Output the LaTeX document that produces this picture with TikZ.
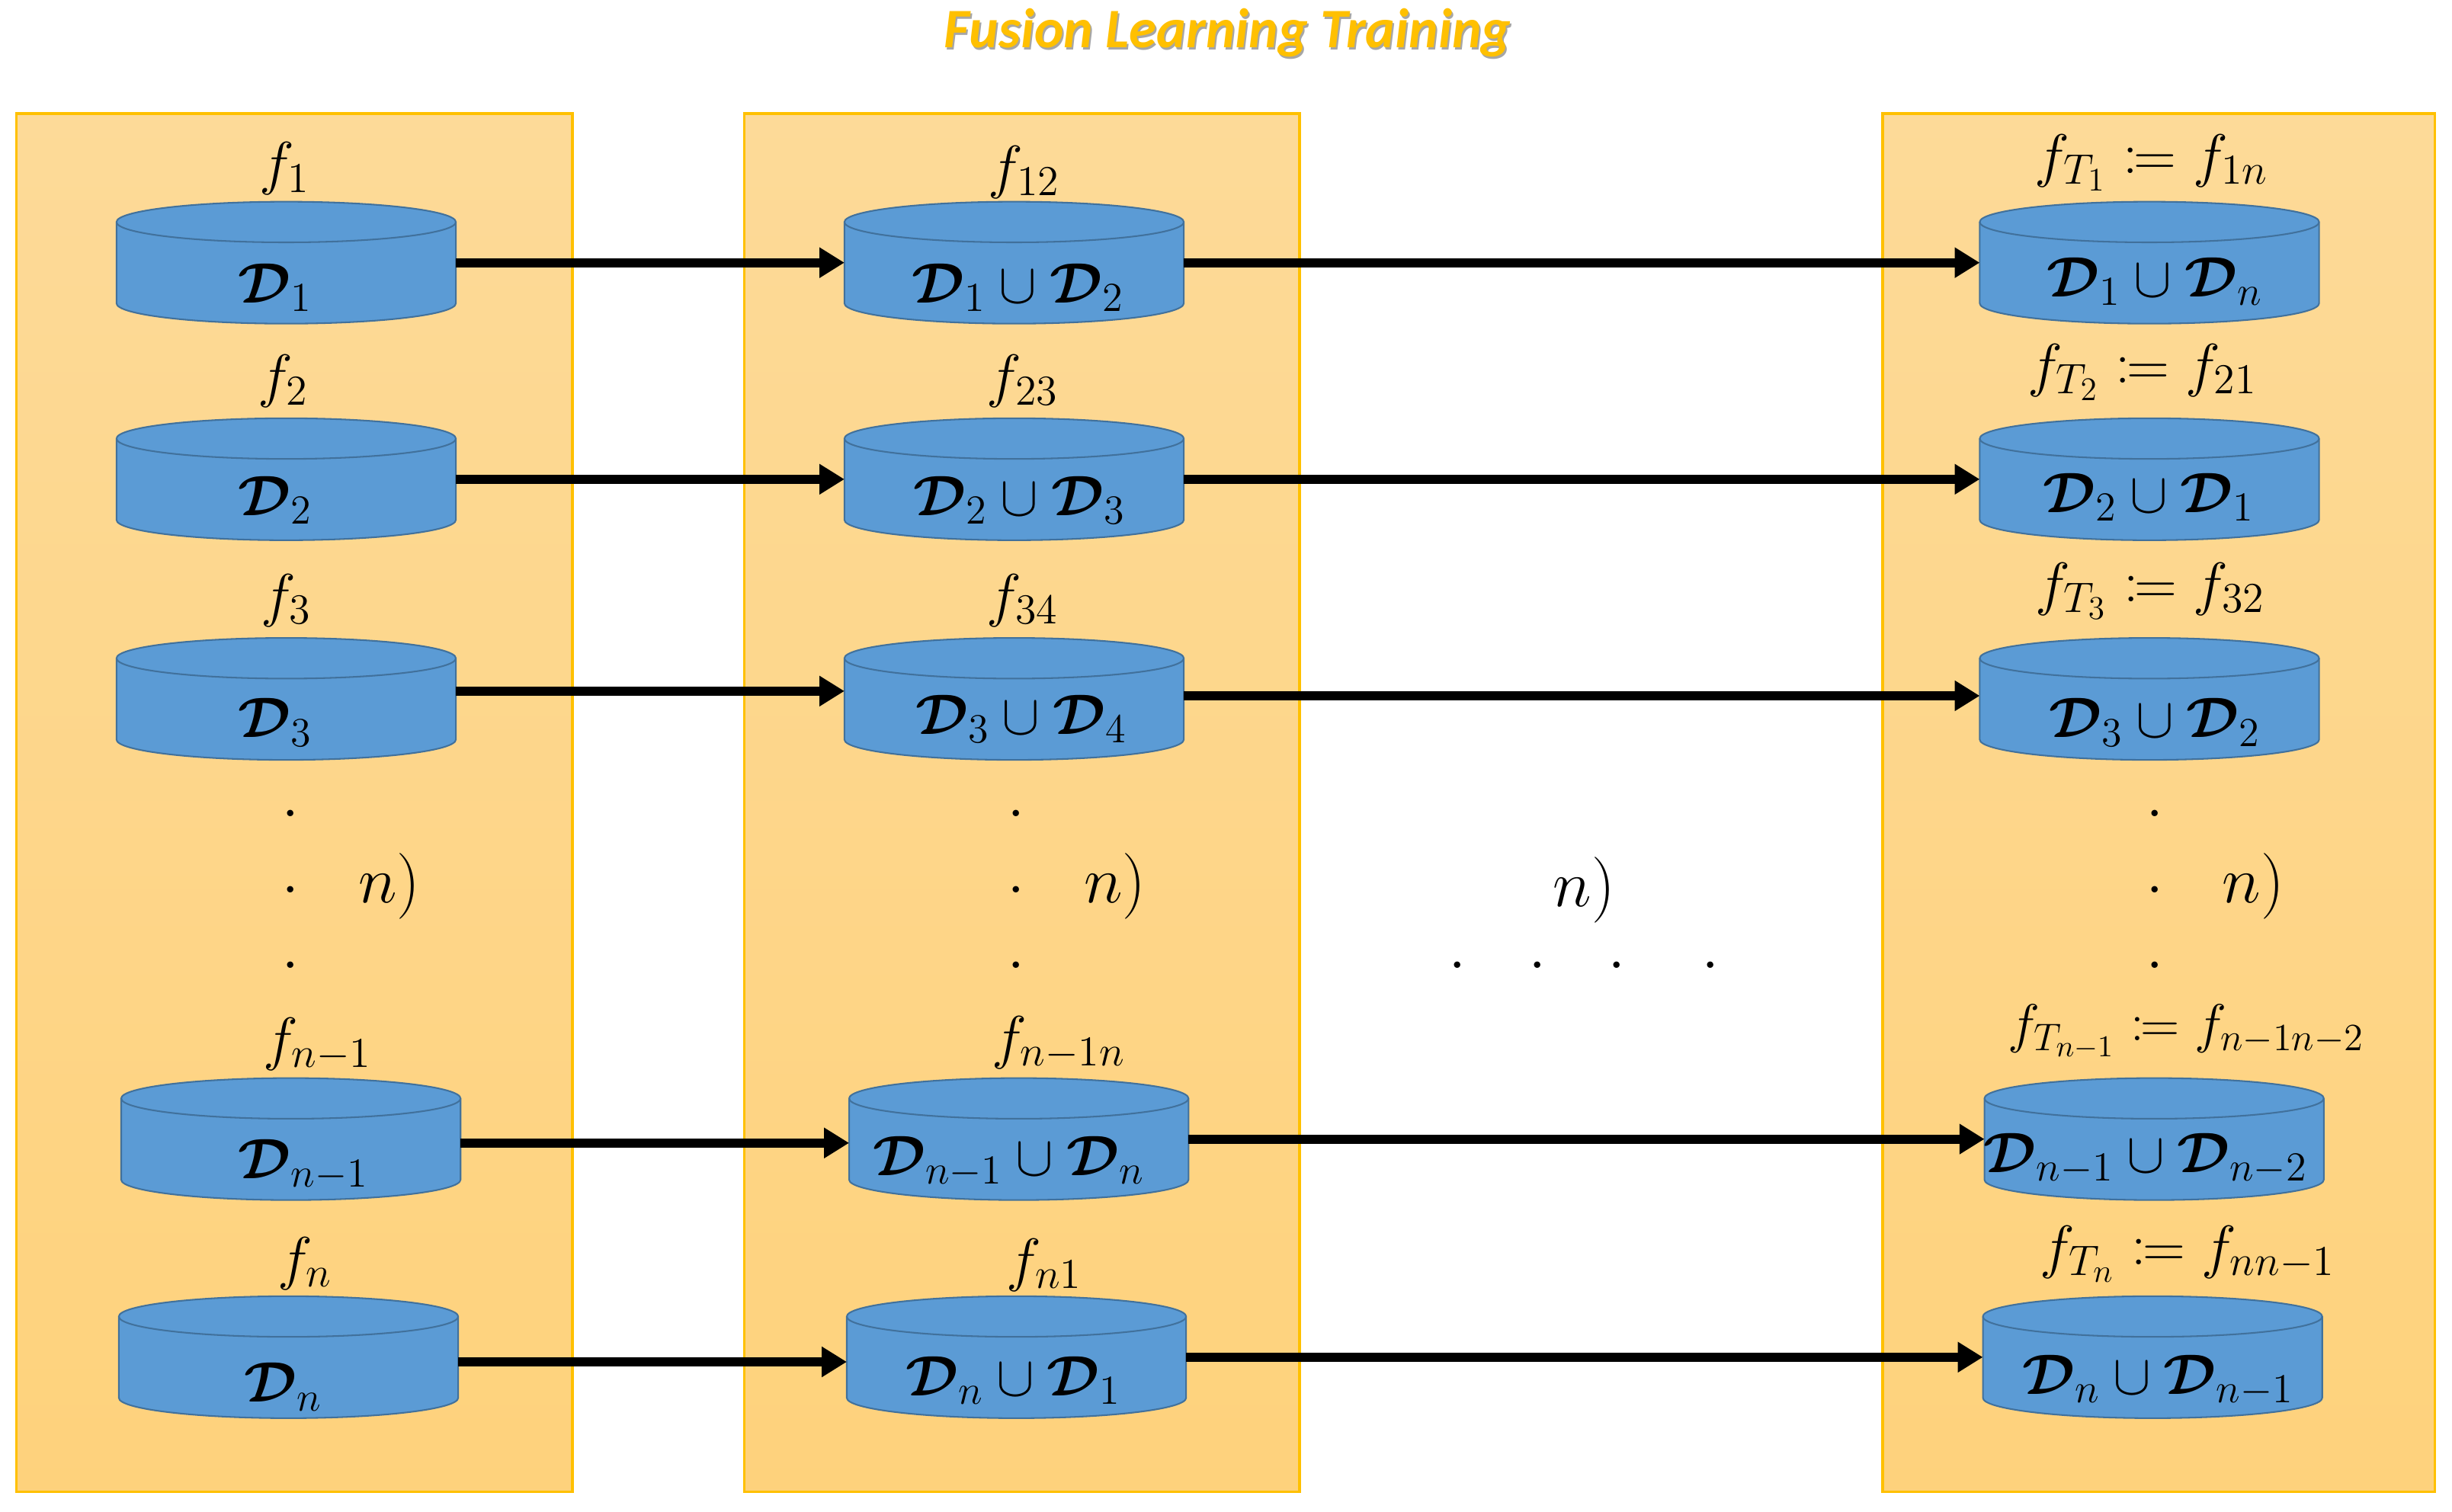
\RequirePackage{fix-cm}
\documentclass[tikz,border=0pt]{standalone}
\usepackage{amsmath}
\usepackage{amssymb}
\usepackage{mathtools}
\usepackage{fontspec}
\usepackage{tikz}
\usetikzlibrary{arrows.meta}
\newfontfamily\titlefont{Carlito}
\DeclareMathSizes{24}{24}{17}{13}
\DeclareMathSizes{21.5}{21.5}{15.5}{12}
\DeclareMathSizes{20.7}{20.7}{15}{11.5}
\DeclareMathSizes{19.7}{19.7}{14}{11}
\newcommand\Dset[1]{\boldsymbol{\mathcal{D}}_{#1}}
\definecolor{panelTop}{RGB}{253,218,152}
\definecolor{panelBottom}{RGB}{254,210,124}
\definecolor{panelEdge}{RGB}{255,192,0}
\definecolor{storeFill}{RGB}{91,155,213}
\definecolor{storeEdge}{RGB}{65,113,156}
\tikzset{
  panel/.style={draw=panelEdge, line width=0.35mm, top color=panelTop, bottom color=panelBottom},
  storebox/.style={minimum width=43.4mm, minimum height=15.6mm, inner sep=0, outer sep=0},
  storeline/.style={draw=storeEdge, line width=0.2mm},
  flow/.style={black, line width=1.15mm, -{Triangle[length=3.2mm,width=3.7mm]}},
  tag/.style={font=\fontsize{21.5}{26}\selectfont, inner sep=0},
  datatag/.style={font=\fontsize{20.7}{25}\selectfont, inner sep=0},
  longtag/.style={font=\fontsize{19.7}{24}\selectfont, inner sep=0},
  bigtag/.style={font=\fontsize{24}{28}\selectfont, inner sep=0},
  headline/.style={font=\fontsize{20.3}{24}\selectfont\titlefont\bfseries\itshape, inner sep=0},
}
\newcommand\addstore[2]{
  \node[storebox] (#1) at (#2) {};
  \filldraw[storeline, fill=storeFill] ([yshift=-2.6mm]#1.north west)
    arc[start angle=180, end angle=0, x radius=21.7mm, y radius=2.6mm]
    --([yshift=2.6mm]#1.south east)
    arc[start angle=0, end angle=-180, x radius=21.7mm, y radius=2.6mm]
    --cycle;
  \draw[storeline] ([yshift=-2.6mm]#1.north west)
    arc[start angle=180, end angle=360, x radius=21.7mm, y radius=2.6mm];
}

\begin{document}
\begin{tikzpicture}[x=0.2mm, y=-0.2mm]
	\useasboundingbox (0, 0) rectangle (1568, 967);
	\node[headline, text=black!35] (titleshade) at (786, 22.5) {Fusion Learning Training};
	\node[headline, text=panelEdge] (title) at (785, 21) {Fusion Learning Training};
	\draw[panel] (  10.5, 72.5) rectangle ( 366, 954);
	\draw[panel] ( 476, 72.5) rectangle ( 831, 954);
	\draw[panel] (1204, 72.5) rectangle (1557, 954);
	% first column
	\addstore{a1}{183, 168}
	\addstore{a2}{183, 306.5}
	\addstore{a3}{183, 447}
	\addstore{a4}{186, 728.5}
	\addstore{a5}{184.5, 868}
	\node[tag] (fa1) at (182, 108) {$f_1$};
	\node[tag] (fa2) at (181, 244) {$f_2$};
	\node[tag] (fa3) at (183, 384) {$f_3$};
	\node[tag] (fa4) at (203, 668) {$f_{n-1}$};
	\node[tag] (fa5) at (195, 808) {$f_n$};
	\node[datatag] (da1) at (176, 184) {$\Dset{1}$};
	\node[datatag] (da2) at (176, 320) {$\Dset{2}$};
	\node[datatag] (da3) at (176, 462) {$\Dset{3}$};
	\node[datatag] (da4) at (194, 745) {$\Dset{n-1}$};
	\node[datatag] (da5) at (181, 887) {$\Dset{n}$};
	\node[bigtag] (ua1) at (186, 520) {$.$};
	\node[bigtag] (ua2) at (186, 569) {$.$};
	\node[bigtag] (ua3) at (186, 617) {$.$};
	\node[bigtag] (na) at (249, 567) {$n)$};
	% second column
	\addstore{b1}{648.5, 168}
	\addstore{b2}{648.5, 306.5}
	\addstore{b3}{648.5, 447}
	\addstore{b4}{651.5, 728.5}
	\addstore{b5}{650, 868}
	\node[tag] (fb1) at (655, 110) {$f_{12}$};
	\node[tag] (fb2) at (654, 244) {$f_{23}$};
	\node[tag] (fb3) at (654, 384) {$f_{34}$};
	\node[tag] (fb4) at (677, 667) {$f_{n-1n}$};
	\node[tag] (fb5) at (668, 809) {$f_{n1}$};
	\node[datatag] (db1) at (651, 184) {$\Dset{1}\cup\Dset{2}$};
	\node[datatag] (db2) at (652, 320) {$\Dset{2}\cup\Dset{3}$};
	\node[datatag] (db3) at (653, 460) {$\Dset{3}\cup\Dset{4}$};
	\node[datatag] (db4) at (645, 743) {$\Dset{n-1}\cup\Dset{n}$};
	\node[datatag] (db5) at (648, 883) {$\Dset{n}\cup\Dset{1}$};
	\node[bigtag] (ub1) at (650, 520) {$.$};
	\node[bigtag] (ub2) at (650, 569) {$.$};
	\node[bigtag] (ub3) at (650, 617) {$.$};
	\node[bigtag] (nb) at (713, 567) {$n)$};
	% gap between the columns
	\node[bigtag] (nm) at (1013, 569) {$n)$};
	\node[bigtag] (um1) at (932, 617) {$.$};
	\node[bigtag] (um2) at (983, 617) {$.$};
	\node[bigtag] (um3) at (1034, 617) {$.$};
	\node[bigtag] (um4) at (1094, 617) {$.$};
	% last column
	\addstore{c1}{1374.5, 168}
	\addstore{c2}{1374.5, 306.5}
	\addstore{c3}{1374.5, 447}
	\addstore{c4}{1377.5, 728.5}
	\addstore{c5}{1376.5, 868}
	\node[tag] (fc1) at (1376, 104) {$f_{T_1}\coloneqq f_{1n}$};
	\node[tag] (fc2) at (1370, 238) {$f_{T_2}\coloneqq f_{21}$};
	\node[tag] (fc3) at (1375, 378) {$f_{T_3}\coloneqq f_{32}$};
	\node[longtag] (fc4) at (1398, 660) {$f_{T_{n-1}}\coloneqq f_{n-1n-2}$};
	\node[tag] (fc5) at (1399, 802) {$f_{T_n}\coloneqq f_{nn-1}$};
	\node[datatag] (dc1) at (1378, 180) {$\Dset{1}\cup\Dset{n}$};
	\node[datatag] (dc2) at (1374, 318) {$\Dset{2}\cup\Dset{1}$};
	\node[datatag] (dc3) at (1378, 462) {$\Dset{3}\cup\Dset{2}$};
	\node[datatag] (dc4) at (1372, 741) {$\Dset{n-1}\cup\Dset{n-2}$};
	\node[datatag] (dc5) at (1380, 883) {$\Dset{n}\cup\Dset{n-1}$};
	\node[bigtag] (uc1) at (1378, 520) {$.$};
	\node[bigtag] (uc2) at (1378, 569) {$.$};
	\node[bigtag] (uc3) at (1378, 617) {$.$};
	\node[bigtag] (nc) at (1441, 567) {$n)$};
	% arrows
	\draw[flow] (a1.east)--(b1.west);
	\draw[flow] (a2.east)--(b2.west);
	\draw[flow] ([yshift=1mm]a3.east)--([yshift=1mm]b3.west);
	\draw[flow] ([yshift=-0.5mm]a4.east)--([yshift=-0.5mm]b4.west);
	\draw[flow] ([yshift=-0.6mm]a5.east)--([yshift=-0.6mm]b5.west);
	\draw[flow] (b1.east)--(c1.west);
	\draw[flow] (b2.east)--(c2.west);
	\draw[flow] ([yshift=0.4mm]b3.east)--([yshift=0.4mm]c3.west);
	\draw[flow] (b4.east)--(c4.west);
	\draw[flow] (b5.east)--(c5.west);
\end{tikzpicture}
\end{document}
